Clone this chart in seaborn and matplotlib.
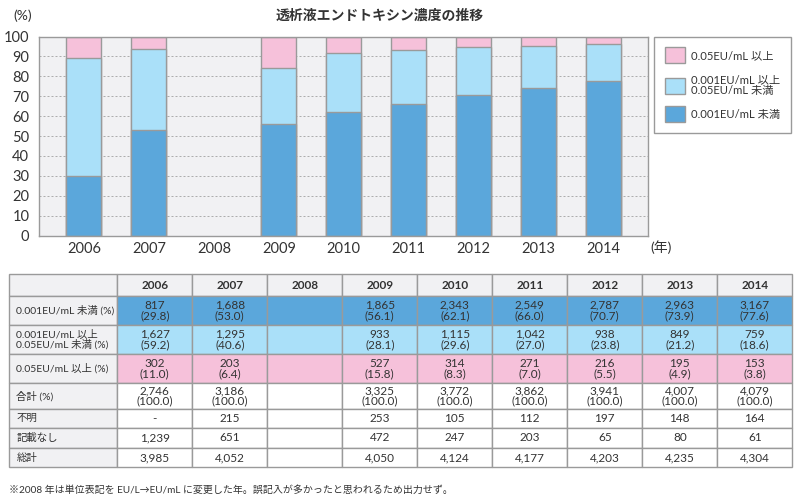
import pandas as pd
import numpy as np
import matplotlib
matplotlib.use("Agg")
import matplotlib.pyplot as plt
import matplotlib.patches as mpatches
import seaborn as sns

# ============================================
# DATA
# ============================================

years = ['2006', '2007', '2008', '2009', '2010', '2011', '2012', '2013', '2014']

low_n = [817, 1688, None, 1865, 2343, 2549, 2787, 2963, 3167]
low_pct = [29.8, 53.0, None, 56.1, 62.1, 66.0, 70.7, 73.9, 77.6]
mid_n = [1627, 1295, None, 933, 1115, 1042, 938, 849, 759]
mid_pct = [59.2, 40.6, None, 28.1, 29.6, 27.0, 23.8, 21.2, 18.6]
high_n = [302, 203, None, 527, 314, 271, 216, 195, 153]
high_pct = [11.0, 6.4, None, 15.8, 8.3, 7.0, 5.5, 4.9, 3.8]
total_n = [2746, 3186, None, 3325, 3772, 3862, 3941, 4007, 4079]
unknown_n = ['-', 215, None, 253, 105, 112, 197, 148, 164]
blank_n = [1239, 651, None, 472, 247, 203, 65, 80, 61]
grand_n = [3985, 4052, None, 4050, 4124, 4177, 4203, 4235, 4304]

legend_labels = ['0.05EU/mL 以上', '0.001EU/mL 以上\n0.05EU/mL 未満', '0.001EU/mL 未満']
row_labels = ['', '0.001EU/mL 未満 (%)', '0.001EU/mL 以上\n0.05EU/mL 未満 (%)',
              '0.05EU/mL 以上 (%)', '合計 (%)', '不明', '記載なし', '総計']

title = '透析液エンドトキシン濃度の推移'
footnote = '※2008 年は単位表記を EU/L→EU/mL に変更した年。誤記入が多かったと思われるため出力せず。'

# ============================================
# STYLE
# ============================================

sns.set_style("white")
plt.rcParams['font.family'] = ['Lato', 'Noto Sans CJK JP', 'DejaVu Sans']

c_dark = '#5ba7db'
c_light = '#aae0f9'
c_pink = '#f6c1da'
c_bg = '#f1f1f3'
c_edge = '#9a9a9a'
c_text = '#333333'

# ============================================
# BAR DATA (stacked, drawn as cumulative layers)
# ============================================

bar_df = pd.DataFrame({
    'year': years,
    'low': low_pct,
    'mid': mid_pct,
    'high': high_pct,
}).dropna()
bar_df['low_mid'] = bar_df['low'] + bar_df['mid']
bar_df['all'] = bar_df['low_mid'] + bar_df['high']

fig = plt.figure(figsize=(8, 5), dpi=100)
ax = fig.add_axes([39 / 800, 1 - 235.5 / 500, 609 / 800, 199 / 500])
ax.set_facecolor(c_bg)

for col, colr in [('all', c_pink), ('low_mid', c_light), ('low', c_dark)]:
    sns.barplot(
        data=bar_df, x='year', y=col, order=years,
        color=colr, saturation=1, errorbar=None,
        width=0.54, edgecolor=c_edge, linewidth=1,
        ax=ax, zorder=2
    )

ax.set_xlim(-0.69, 8.68)
ax.set_ylim(0, 100)
ax.set_yticks(range(0, 101, 10))
ax.set_xlabel('')
ax.set_ylabel('')
ax.yaxis.grid(True, linestyle=(0, (2.4, 2.4)), color='#a0a0a0', linewidth=0.6, zorder=0)
ax.set_axisbelow(True)
for sp in ax.spines.values():
    sp.set_color(c_edge)
    sp.set_linewidth(1)
ax.tick_params(axis='both', length=0, labelsize=10.5, colors=c_text)
ax.tick_params(axis='y', pad=7)
ax.tick_params(axis='x', pad=5)

fig.text(13 / 800, 1 - 16 / 500, '(%)', fontsize=10, color=c_text, va='center')
fig.text(650 / 800, 1 - 247 / 500, '(年)', fontsize=10, color=c_text, va='center')
fig.text(380 / 800, 1 - 15 / 500, title, fontsize=10, fontweight='bold',
         color=c_text, ha='center', va='center')

handles = [mpatches.Patch(facecolor=c, edgecolor=c_edge, linewidth=1)
           for c in [c_pink, c_light, c_dark]]
leg = fig.legend(
    handles, legend_labels, loc='upper left',
    bbox_to_anchor=(654 / 800, 1 - 36.5 / 500), borderaxespad=0,
    fontsize=8.1, frameon=True, fancybox=False, framealpha=1,
    edgecolor=c_edge, handlelength=1.8, handleheight=1.8,
    handletextpad=0.55, labelspacing=0.95, borderpad=0.95
)
leg.get_frame().set_linewidth(1)
for t in leg.get_texts():
    t.set_color(c_text)
    t.set_linespacing(1.0)

# ============================================
# TABLE
# ============================================

tab = fig.add_axes([0, 0, 1, 1])
tab.set_xlim(0, 800)
tab.set_ylim(500, 0)
tab.axis('off')
tab.patch.set_visible(False)

col_w = [108] + [75] * 9
row_h = [21.7, 29, 29, 29, 26, 19, 19.7, 19.6]
x0, y0 = 9.3, 274.3
row_colors = ['#f1f1f3', c_dark, c_light, c_pink, 'white', 'white', 'white', 'white']


def fmt(v):
    if v is None:
        return ''
    if isinstance(v, str):
        return v
    return f"{v:,}"


def fmt2(n, p):
    if n is None:
        return ''
    return f"{n:,}\n({p:.1f})"


cells = [
    years,
    [fmt2(n, p) for n, p in zip(low_n, low_pct)],
    [fmt2(n, p) for n, p in zip(mid_n, mid_pct)],
    [fmt2(n, p) for n, p in zip(high_n, high_pct)],
    [fmt2(n, 100.0) for n in total_n],
    [fmt(v) for v in unknown_n],
    [fmt(v) for v in blank_n],
    [fmt(v) for v in grand_n],
]

y = y0
for r, h in enumerate(row_h):
    x = x0
    for c, w in enumerate(col_w):
        fc = '#f1f1f3' if c == 0 else row_colors[r]
        tab.add_patch(mpatches.Rectangle((x, y), w, h, facecolor=fc,
                                         edgecolor=c_edge, linewidth=1))
        if c == 0:
            tab.text(x + 7, y + h / 2, row_labels[r], fontsize=7.5, color=c_text,
                     ha='left', va='center', linespacing=0.95)
        else:
            txt = cells[r][c - 1]
            tab.text(x + w / 2, y + h / 2, txt, fontsize=8.5, color=c_text,
                     ha='center', va='center', linespacing=0.95,
                     fontweight='bold' if r == 0 else 'normal')
        x += w
    y += h

tab.text(x0, 490, footnote, fontsize=7.2, color=c_text, ha='left', va='center')

plt.savefig("out.png", dpi=100)
